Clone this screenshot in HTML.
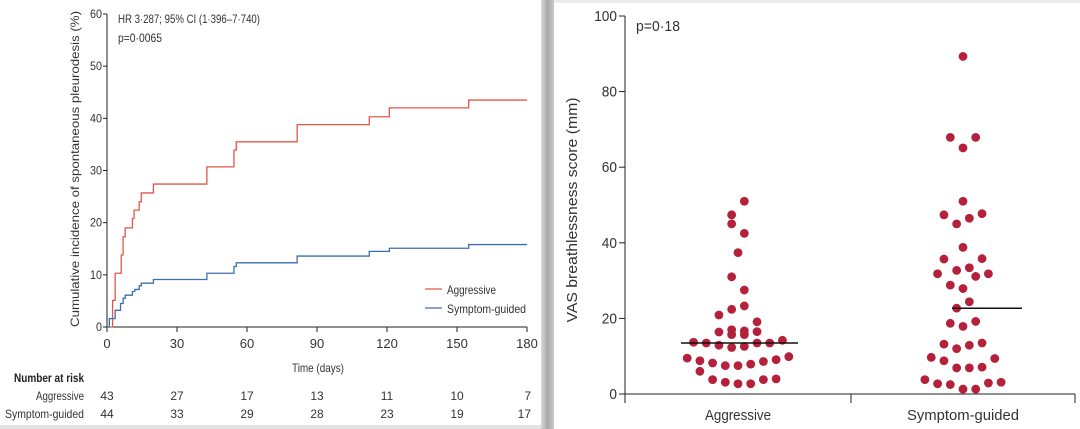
<!DOCTYPE html>
<html><head><meta charset="utf-8"><style>
html,body{margin:0;padding:0;background:#fff;}
svg{display:block;font-family:"Liberation Sans Narrow","Liberation Sans",sans-serif;}
</style></head><body>
<svg id="c" width="1080" height="429" viewBox="0 0 1080 429" xmlns="http://www.w3.org/2000/svg">
<defs><linearGradient id="sh" x1="0" x2="1" y1="0" y2="0"><stop offset="0" stop-color="#d8d8d8"/><stop offset="0.5" stop-color="#a9a9a9"/><stop offset="1" stop-color="#c9c9c9"/></linearGradient></defs>
<rect x="0" y="0" width="1080" height="429" fill="#fff"/>
<rect x="541" y="0" width="13" height="429" fill="url(#sh)"/>
<rect x="0" y="425" width="541" height="4" fill="#e2e2e2"/>
<rect x="554" y="0" width="526" height="3" fill="#ececec"/>
<g id="left"></g>
<g id="right"></g>
</svg>
<script>
// ---- KM chart data ----
const kmXTicks=[0,30,60,90,120,150,180];
const kmYTicks=[0,10,20,30,40,50,60];
const aggTimes=[0,2.4,3.5,6.1,6.9,7.8,10.9,11.6,13.8,14.7,19.9,42.8,54.4,55.4,81.5,112.4,121,155,180];
const aggVals=[0,5.1,10.3,13.8,17.3,19,20.8,22.4,24,25.7,27.4,30.7,33.9,35.5,38.8,40.3,42,43.5,43.5];
const symTimes=[0,1,3.5,5.8,6.9,7.8,10.9,11.9,13.8,14.7,19.9,42.8,54.4,55.4,81.5,112.4,121,155,180];
const symVals=[0,1.6,3.2,4.5,5.5,6.1,6.8,7.2,7.9,8.4,9.1,10.3,11.6,12.3,13.6,14.5,15.1,15.8,15.8];
const riskAgg=[43,27,17,13,11,10,7];
const riskSym=[44,33,29,28,23,19,17];
// ---- Dot plot data ----
const dotYTicks=[0,20,40,60,80,100];
const groups=["Aggressive","Symptom-guided"];
const aggScores=[51,47.4,45,42.5,37.4,31,27.5,22.4,23.3,20.9,19.1,16.4,17,16.7,16.5,15.7,15.7,13.7,13.5,12.9,12.3,12.6,13.5,13.5,14.2,9.5,8.8,8.2,7.5,7.5,7.9,8.6,9.1,9.9,6,3.8,3.1,2.7,2.7,3.8,4];
const aggCols=[1,-1,-1,1,0,-1,1,-1,1,-3,3,-3,-1,1,3,-1,1,-7,-5,-3,-1,1,3,5,7,-8,-6,-4,-2,0,2,4,6,8,-6,-4,-2,0,2,4,6];
const symScores=[89.3,67.9,67.9,65.1,51,47.4,47.7,45,46.5,38.8,35.7,35.8,32.7,33.4,31.8,31.1,31.8,28.8,27.9,24.4,22.7,18.7,19.2,17.9,13.2,13.5,12,12.9,9.7,8.8,9.4,6.9,6.9,7.1,3.8,2.7,2.5,1.3,1.3,2.9,3.1];
const symCols=[0,-2,2,0,0,-3,3,-1,1,0,-3,3,-1,1,-4,2,4,-2,0,1,-1,-2,2,0,-3,3,-1,1,-5,-3,5,-1,1,3,-6,-4,-2,0,2,4,6];
const medians=[13.5,22.7];

const NS="http://www.w3.org/2000/svg";
function mk(parent,tag,attrs,text){const e=document.createElementNS(NS,tag);for(const k in attrs)e.setAttribute(k,attrs[k]);if(text!==undefined)e.textContent=text;parent.appendChild(e);return e;}
const L=document.getElementById('left'), R=document.getElementById('right');
const kx=t=>107+t*(527-107)/180;
const ky=v=>327-v*(327-14)/60;
let e;
e=mk(L,'line',{x1:107,y1:14,x2:107,y2:327,stroke:'#222','stroke-width':1});

e=mk(L,'line',{x1:107,y1:327,x2:527,y2:327,stroke:'#222','stroke-width':1});

kmYTicks.forEach(v=>{mk(L,'line',{x1:103,y1:ky(v),x2:107,y2:ky(v),stroke:'#222'});
 e=mk(L,'text',{x:102,y:ky(v)+4,'text-anchor':'end','font-size':12,fill:'#333',textLength:v?12:6,lengthAdjust:'spacingAndGlyphs'},v);
 });
kmXTicks.forEach((t,i)=>{mk(L,'line',{x1:kx(t),y1:327,x2:kx(t),y2:332,stroke:'#222'});
 e=mk(L,'text',{x:kx(t),y:348,'text-anchor':'middle','font-size':13,fill:'#333'},t);
 
 e=mk(L,'text',{x:kx(t)+(i==6?4:0),y:400,'text-anchor':i==6?'end':'middle','font-size':12,fill:'#333'},riskAgg[i]);
 
 e=mk(L,'text',{x:kx(t)+(i==6?4:0),y:418,'text-anchor':i==6?'end':'middle','font-size':12,fill:'#333'},riskSym[i]);
 });
function stepPath(ts,vs){let d='M'+kx(ts[0])+' '+ky(vs[0]);for(let i=1;i<ts.length;i++){d+=' H'+kx(ts[i])+' V'+ky(vs[i]);}return d;}
e=mk(L,'path',{d:stepPath(aggTimes,aggVals),fill:'none',stroke:'#e0584a','stroke-width':1.3});

e=mk(L,'path',{d:stepPath(symTimes,symVals),fill:'none',stroke:'#3d6fb0','stroke-width':1.3});

e=mk(L,'text',{x:118,y:23,'font-size':12,fill:'#333',textLength:142,lengthAdjust:'spacingAndGlyphs'},'HR 3·287; 95% CI (1·396–7·740)');

e=mk(L,'text',{x:118,y:42,'font-size':12,fill:'#333',textLength:44,lengthAdjust:'spacingAndGlyphs'},'p=0·0065');

e=mk(L,'text',{x:79,y:169,'text-anchor':'middle','font-size':12,fill:'#333',textLength:316,lengthAdjust:'spacingAndGlyphs',transform:'rotate(-90 79 169)'},'Cumulative incidence of spontaneous pleurodesis (%)');

e=mk(L,'text',{x:318,y:372,'text-anchor':'middle','font-size':12,fill:'#333',textLength:52,lengthAdjust:'spacingAndGlyphs'},'Time (days)');

e=mk(L,'text',{x:84,y:382,'text-anchor':'end','font-size':12,'font-weight':'bold',fill:'#222',textLength:70,lengthAdjust:'spacingAndGlyphs'},'Number at risk');

e=mk(L,'text',{x:84,y:400,'text-anchor':'end','font-size':12,fill:'#333',textLength:48,lengthAdjust:'spacingAndGlyphs'},'Aggressive');

e=mk(L,'text',{x:84,y:418,'text-anchor':'end','font-size':12,fill:'#333',textLength:79,lengthAdjust:'spacingAndGlyphs'},'Symptom-guided');

mk(L,'line',{x1:425,y1:289,x2:442,y2:289,stroke:'#e0584a','stroke-width':1.3});
e=mk(L,'text',{x:447,y:294,'font-size':12,fill:'#333',textLength:49,lengthAdjust:'spacingAndGlyphs'},'Aggressive');

mk(L,'line',{x1:425,y1:308,x2:442,y2:308,stroke:'#3d6fb0','stroke-width':1.3});
e=mk(L,'text',{x:447,y:313,'font-size':12,fill:'#333',textLength:79,lengthAdjust:'spacingAndGlyphs'},'Symptom-guided');

// Dot plot scales
const dy=v=>394-v*(394-16)/100;
const gx=[738,963];
const colW=6.35;
e=mk(R,'line',{x1:625,y1:16,x2:625,y2:394,stroke:'#222','stroke-width':1});

e=mk(R,'line',{x1:625,y1:394,x2:1075,y2:394,stroke:'#222','stroke-width':1});

[625,851,1075].forEach(x=>mk(R,'line',{x1:x,y1:394,x2:x,y2:403,stroke:'#222'}));
dotYTicks.forEach(v=>{mk(R,'line',{x1:619,y1:dy(v),x2:625,y2:dy(v),stroke:'#222'});
 e=mk(R,'text',{x:617,y:dy(v)+5,'text-anchor':'end','font-size':15,fill:'#333',textLength:String(v).length*7.6,lengthAdjust:'spacingAndGlyphs'},v);
 });
groups.forEach((g,i)=>{e=mk(R,'text',{x:gx[i],y:420,'text-anchor':'middle','font-size':15,fill:'#333',textLength:i?112:66,lengthAdjust:'spacingAndGlyphs'},g);
 });
aggScores.forEach((v,i)=>{e=mk(R,'circle',{cx:gx[0]+aggCols[i]*colW,cy:dy(v),r:4.4,fill:'#b5213a'});
 });
symScores.forEach((v,i)=>{e=mk(R,'circle',{cx:gx[1]+symCols[i]*colW,cy:dy(v),r:4.4,fill:'#b5213a'});
 });
e=mk(R,'line',{x1:681,y1:dy(medians[0]),x2:798,y2:dy(medians[0]),stroke:'#111','stroke-width':1.5});

e=mk(R,'line',{x1:952,y1:dy(medians[1]),x2:1022,y2:dy(medians[1]),stroke:'#111','stroke-width':1.5});

e=mk(R,'text',{x:636,y:31,'font-size':15,fill:'#333',textLength:44,lengthAdjust:'spacingAndGlyphs'},'p=0·18');

e=mk(R,'text',{x:577,y:210,'text-anchor':'middle','font-size':15,fill:'#333',textLength:225,lengthAdjust:'spacingAndGlyphs',transform:'rotate(-90 577 210)'},'VAS breathlessness score (mm)');

</script>
</body></html>
